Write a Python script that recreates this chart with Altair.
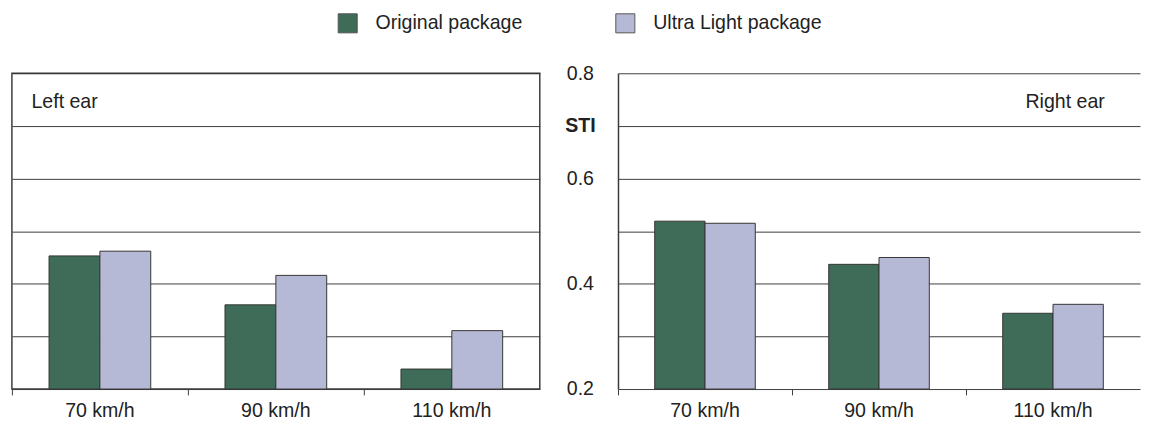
import altair as alt
import pandas as pd

speeds = ["70 km/h", "90 km/h", "110 km/h"]
packages = ["Original package", "Ultra Light package"]
left_original = [0.453, 0.360, 0.238]
left_ultra = [0.462, 0.416, 0.311]
right_original = [0.519, 0.437, 0.344]
right_ultra = [0.515, 0.450, 0.361]
panel_labels = ["Left ear", "Right ear"]
y_ticks = [0.2, 0.3, 0.4, 0.5, 0.6, 0.7, 0.8]
axis_title = "STI"

FONT = "Liberation Sans"
FS = 20
TXT = "#222222"
GRID = "#3a3a3a"
colors = ["#3f6b59", "#b6b9d5"]


def make_df(orig, ultra):
    rows = []
    for s, o, u in zip(speeds, orig, ultra):
        rows.append({"speed": s, "package": packages[0], "sti": o})
        rows.append({"speed": s, "package": packages[1], "sti": u})
    return pd.DataFrame(rows)


legend = alt.Legend(
    title=None, orient="none", legendX=333, legendY=-62, direction="horizontal",
    symbolType="square", symbolSize=380, symbolStrokeColor="#555555", symbolStrokeWidth=1,
    labelFont=FONT, labelFontSize=FS, labelColor=TXT, labelOffset=18, columnPadding=92,
    labelLimit=400, padding=0,
)

yscale = alt.Scale(domain=[0.2, 0.8], zero=False, nice=False)

label_expr = ("datum.value == 0.7 ? '" + axis_title + "' : "
              "(datum.value == 0.2 || datum.value == 0.4 || datum.value == 0.6 || datum.value == 0.8) "
              "? format(datum.value, '.1f') : ''")


def panel(orig, ultra, label, side):
    df = make_df(orig, ultra)
    if side == "left":
        xscale = alt.Scale(paddingInner=0, paddingOuter=0)
        yaxis = alt.Axis(values=y_ticks, grid=True, gridColor=GRID, gridWidth=1, gridOpacity=1,
                         labels=False, ticks=False, domain=False, title=None)
        width = 540
        tx, talign = 20, "left"
    else:
        xscale = alt.Scale(paddingInner=0, paddingOuter=0, range=[0, 534])
        yaxis = alt.Axis(values=y_ticks, grid=True, gridColor=GRID, gridWidth=1, gridOpacity=1,
                         labels=True, labelExpr=label_expr, labelAlign="center", labelPadding=39,
                         labelFont=FONT, labelFontSize=FS, labelColor=TXT, labelOverlap=False,
                         labelFontWeight={"condition": {"test": "datum.value == 0.7", "value": "bold"},
                                          "value": "normal"},
                         ticks=False, tickSize=0, domain=True, domainColor=GRID, domainWidth=1.5,
                         title=None)
        width = 516
        tx, talign = 498, "right"

    bars = alt.Chart(df).mark_bar(stroke="#333333", strokeWidth=1).encode(
        x=alt.X("speed:N", sort=speeds, scale=xscale, title=None,
                axis=alt.Axis(labelAngle=0, labelFont=FONT, labelFontSize=FS, labelColor=TXT,
                              domain=False, ticks=True, tickSize=6, tickColor=GRID, tickWidth=1,
                              bandPosition=0, labelPadding=6, grid=False)),
        xOffset=alt.XOffset("package:N", sort=packages,
                            scale=alt.Scale(paddingInner=0, paddingOuter=0.73)),
        y=alt.Y("sti:Q", scale=yscale, axis=yaxis, title=None),
        y2=alt.datum(0.2),
        color=alt.Color("package:N", sort=packages,
                        scale=alt.Scale(domain=packages, range=colors), legend=legend),
    )
    txt = alt.Chart(pd.DataFrame({"label": [label]})).mark_text(
        align=talign, baseline="middle", font=FONT, fontSize=FS, color=TXT
    ).encode(x=alt.value(tx), y=alt.value(29), text="label:N")
    return alt.layer(bars, txt).properties(width=width, height=323)


left = panel(left_original, left_ultra, panel_labels[0], "left").properties(
    view=alt.ViewBackground(stroke=GRID, strokeWidth=1.5))
right = panel(right_original, right_ultra, panel_labels[1], "right")

chart = alt.hconcat(left, right, spacing=23).resolve_scale(x="independent", xOffset="independent").configure(
    padding={"left": 2, "top": 0, "right": 0, "bottom": 0}
).configure_view(stroke="transparent").configure_concat(spacing=23)

chart.save("out.html", embed_options={"renderer": "svg", "actions": False})
